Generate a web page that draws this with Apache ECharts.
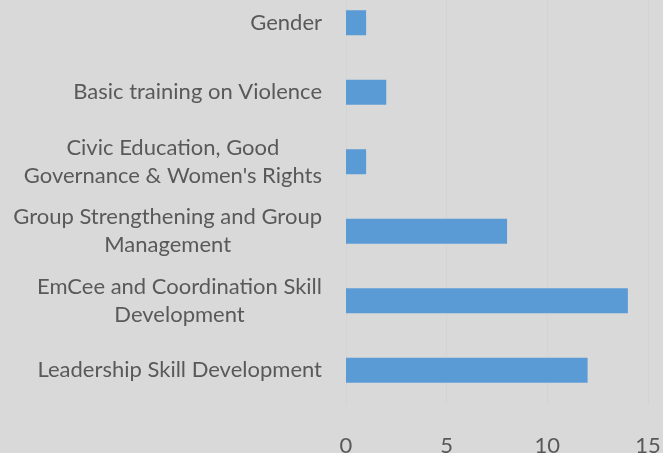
<!DOCTYPE html>
<html>
<head>
<meta charset="utf-8">
<script src="https://cdn.jsdelivr.net/npm/echarts@6/dist/echarts.min.js"></script>
<style>
  html, body { margin: 0; padding: 0; background: #d9d9d9; }
  #chart { width: 663px; height: 453px; }
</style>
</head>
<body>
<div id="chart"></div>
<script>
// categories listed top to bottom
const categories = [
  'Gender',
  'Basic training on Violence',
  "Civic Education, Good Governance & Women's Rights",
  'Group Strengthening and Group Management',
  'EmCee and Coordination Skill Development',
  'Leadership Skill Development'
]
const counts = [1, 2, 1, 8, 14, 12]
const xTicks = [0, 5, 10, 15]

// greedy word wrap, like the spreadsheet does
function wrapLabel(text, maxChars) {
  const words = text.split(' ')
  const lines = []
  let line = ''
  words.forEach(w => {
    const next = line ? line + ' ' + w : w
    if (next.length > maxChars && line) {
      lines.push(line)
      line = w
    } else {
      line = next
    }
  })
  lines.push(line)
  return lines.map(l => '{c|' + l + '}').join('\n')
}

const chart = echarts.init(document.getElementById('chart'))

chart.setOption({
  backgroundColor: '#d9d9d9',
  animation: false,
  grid: { left: 346, right: 15, top: -12, bottom: 48, outerBoundsMode: 'none', containLabel: false },
  xAxis: {
    type: 'value',
    min: xTicks[0],
    max: xTicks[xTicks.length - 1],
    interval: 5,
    axisLine: { show: false },
    axisTick: { show: false },
    splitLine: { show: true, lineStyle: { color: '#d4d4d4', width: 1 } },
    axisLabel: {
      color: '#595959',
      fontFamily: 'Lato',
      fontSize: 22,
      margin: 30
    }
  },
  yAxis: {
    type: 'category',
    inverse: true,
    data: categories,
    axisLine: { show: false },
    axisTick: { show: false },
    axisLabel: {
      color: '#595959',
      fontFamily: 'Lato',
      fontSize: 22,
      margin: 24,
      formatter: v => wrapLabel(v, 30),
      rich: {
        c: { align: 'center', color: '#595959', fontFamily: 'Lato', fontSize: 22, lineHeight: 28 }
      }
    }
  },
  series: [{
    type: 'bar',
    data: counts,
    barWidth: '36%',
    itemStyle: { color: '#5b9bd5' }
  }]
})
</script>
</body>
</html>
